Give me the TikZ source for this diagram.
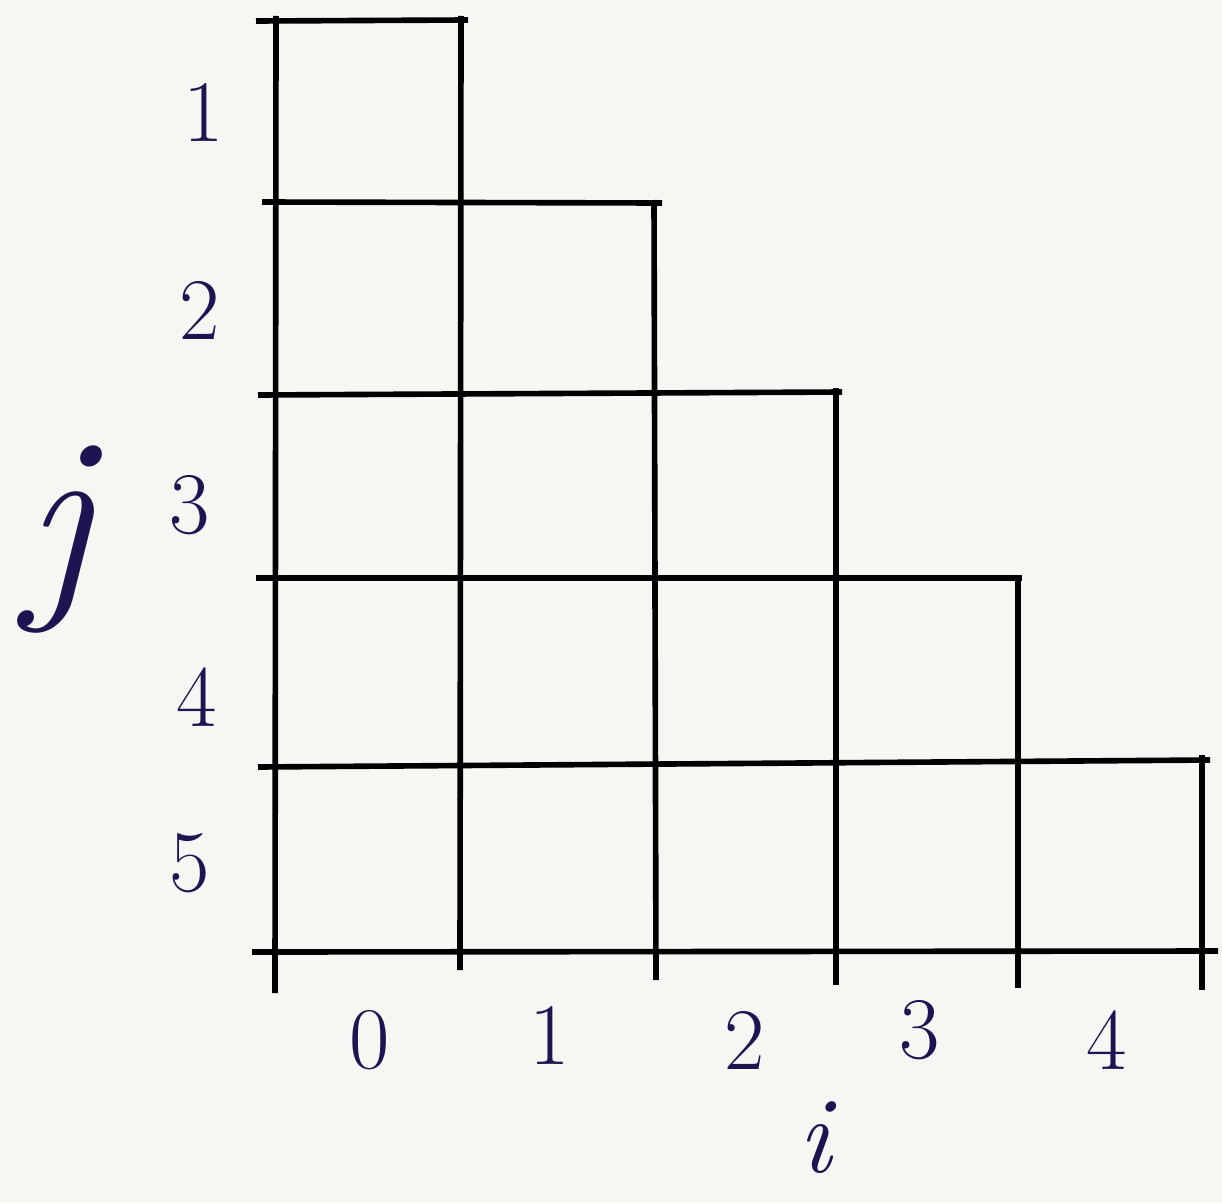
\documentclass[tikz,border=0pt]{standalone}
\usepackage{fontspec}
\definecolor{bg}{HTML}{F6F6F2}
\definecolor{ink}{HTML}{1C1552}
\begin{document}
\begin{tikzpicture}[x=0.02cm,y=-0.02cm,
  gridline/.style={line width=3.2pt,black,line cap=butt},
  lab/.style={text=ink,font=\fontsize{50}{50}\selectfont,inner sep=0pt},
  axlab/.style={text=ink,inner sep=0pt}]
\fill[bg] (0,0) rectangle (1222,1203);
\useasboundingbox (0,0) rectangle (1222,1203);
% vertical lines
\draw[gridline] (276,16) -- (275,993);
\draw[gridline] (461,16) -- (460,970);
\draw[gridline] (654,200) -- (656,980);
\draw[gridline] (836,388) -- (836,985);
\draw[gridline] (1018,575) -- (1018,988);
\draw[gridline] (1202,755) -- (1202,990);
% horizontal lines
\draw[gridline] (256,21) -- (468,20);
\draw[gridline] (262,202) -- (662,203);
\draw[gridline] (258,395) -- (842,392);
\draw[gridline] (256,578) -- (1022,578);
\draw[gridline] (258,767) -- (1210,760);
\draw[gridline] (252,952) -- (1218,951);
% row labels
\node[lab] (r1) at (204,112) {1};
\node[lab] (r2) at (200,310) {2};
\node[lab] (r3) at (190,505) {3};
\node[lab] (r4) at (197,697) {4};
\node[lab] (r5) at (190,863) {5};
% column labels
\node[lab] (c0) at (370,1040) {0};
\node[lab] (c1) at (550,1035) {1};
\node[lab] (c2) at (745,1040) {2};
\node[lab] (c3) at (920,1030) {3};
\node[lab] (c4) at (1107,1040) {4};
% axis labels
\node[axlab,font=\fontsize{62}{62}\selectfont\itshape] (ai) at (815,1138) {i};
\node[axlab,font=\fontsize{125}{125}\selectfont\itshape] (aj) at (58,540) {j};
\end{tikzpicture}
\end{document}
